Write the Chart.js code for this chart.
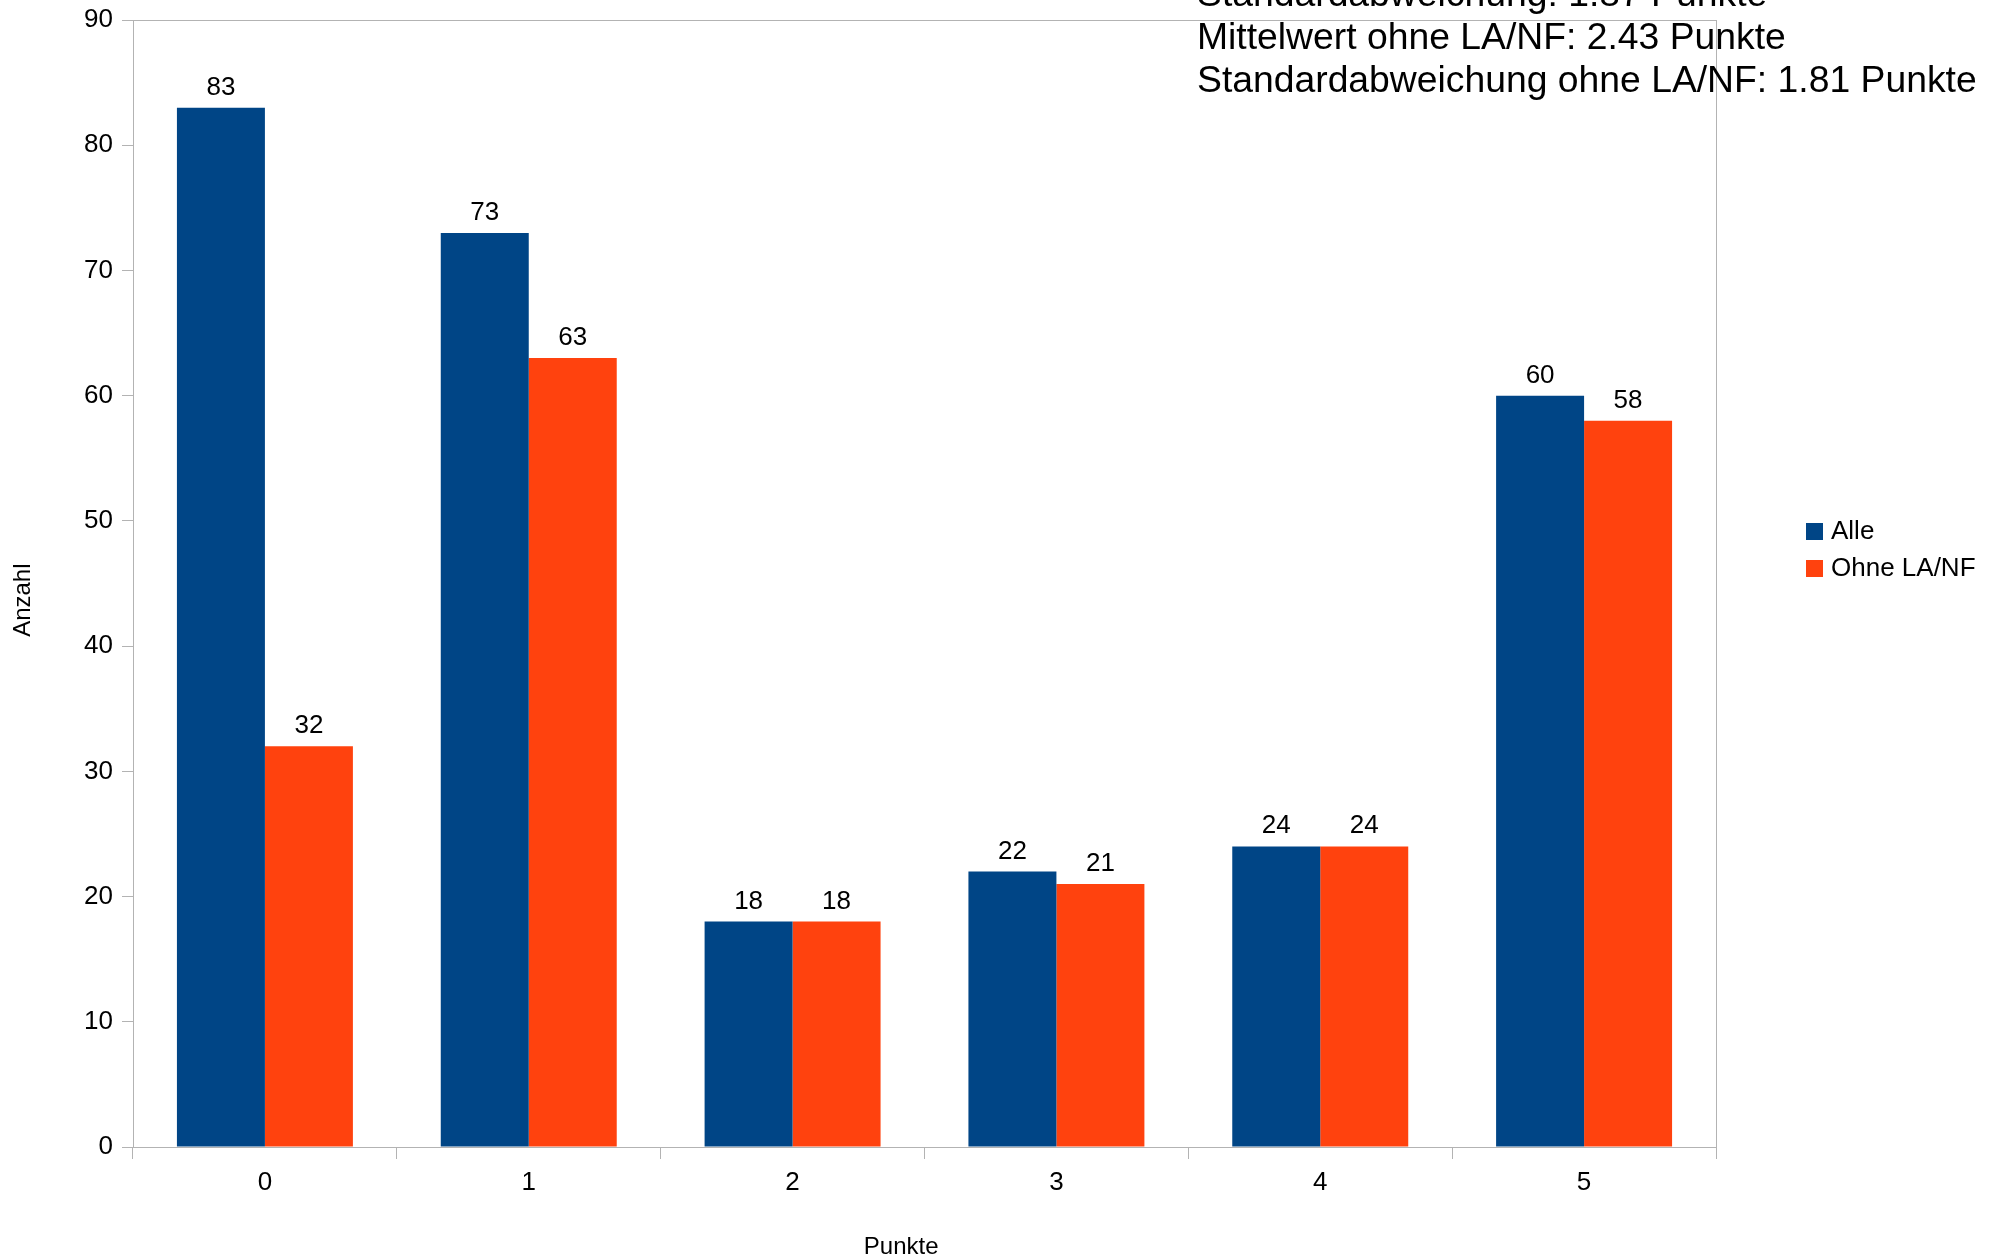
<!DOCTYPE html>
<html lang="de">
<head>
    <meta charset="UTF-8">
    <title>Punkte</title>
    <style>
        body {
            margin: 0;
            padding: 0;
            background-color: #ffffff;
        }
        #chartBox {
            width: 1994px;
            height: 1260px;
        }
    </style>
</head>
<body>

<div id="chartBox">
    <canvas id="pointsChart" width="1994" height="1260"></canvas>
</div>

<script src="https://cdn.jsdelivr.net/npm/chart.js@4/dist/chart.umd.min.js"></script>
<script>
    const categories = ['0', '1', '2', '3', '4', '5'];
    const alleValues = [83, 73, 18, 22, 24, 60];
    const ohneValues = [32, 63, 18, 21, 24, 58];
    const seriesNames = ['Alle', 'Ohne LA/NF'];
    const statLines = [
        'Standardabweichung: 1.87 Punkte',
        'Mittelwert ohne LA/NF: 2.43 Punkte',
        'Standardabweichung ohne LA/NF: 1.81 Punkte'
    ];

    const FONT = "'Liberation Sans', Arial, sans-serif";
    const BLUE = '#004586';
    const ORANGE = '#ff420e';
    const FRAME = '#b3b3b3';

    // frame around plot area, value labels, legend and the stats text
    const extras = {
        id: 'extras',
        afterDatasetsDraw(chart) {
            const {ctx, chartArea} = chart;
            ctx.save();
            ctx.strokeStyle = FRAME;
            ctx.lineWidth = 1;
            ctx.strokeRect(chartArea.left + 0.5, chartArea.top + 0.5,
                chartArea.right - chartArea.left, chartArea.bottom - chartArea.top);

            // value labels above bars
            ctx.fillStyle = '#000000';
            ctx.font = '26px ' + FONT;
            ctx.textAlign = 'center';
            ctx.textBaseline = 'alphabetic';
            chart.data.datasets.forEach((ds, i) => {
                chart.getDatasetMeta(i).data.forEach((bar, j) => {
                    ctx.fillText(String(ds.data[j]), bar.x, bar.y - 13);
                });
            });

            // legend
            ctx.font = '26px ' + FONT;
            ctx.textAlign = 'left';
            ctx.textBaseline = 'middle';
            chart.data.datasets.forEach((ds, i) => {
                const cy = 531 + i * 37;
                ctx.fillStyle = ds.backgroundColor;
                ctx.fillRect(1806, cy - 8, 17, 17);
                ctx.fillStyle = '#000000';
                ctx.fillText(ds.label, 1831, cy + 1);
            });

            // statistics text, top right
            ctx.font = '37.3px ' + FONT;
            ctx.textBaseline = 'alphabetic';
            statLines.forEach((line, i) => {
                ctx.fillText(line, 1197, 6 + i * 43);
            });
            ctx.restore();
        }
    };

    const ctx = document.getElementById('pointsChart').getContext('2d');
    const pointsChart = new Chart(ctx, {
        type: 'bar',
        data: {
            labels: categories,
            datasets: [{
                label: seriesNames[0],
                data: alleValues,
                backgroundColor: BLUE
            }, {
                label: seriesNames[1],
                data: ohneValues,
                backgroundColor: ORANGE
            }]
        },
        options: {
            responsive: false,
            animation: false,
            layout: {
                padding: {left: 0, top: 20, right: 278, bottom: 0}
            },
            categoryPercentage: 0.667,
            barPercentage: 1.0,
            plugins: {
                legend: {display: false},
                tooltip: {enabled: false}
            },
            scales: {
                x: {
                    grid: {
                        offset: true,
                        drawOnChartArea: false,
                        drawTicks: true,
                        tickLength: 12,
                        color: FRAME
                    },
                    border: {color: FRAME},
                    ticks: {
                        color: '#000000',
                        padding: 8,
                        font: {family: FONT, size: 26}
                    },
                    title: {
                        display: true,
                        // trailing spaces nudge the centred title a bit left, like the original
                        text: 'Punkte       ',
                        color: '#000000',
                        padding: {top: 0, bottom: 0},
                        font: {family: FONT, size: 24, lineHeight: 1.08}
                    },
                    afterFit(scale) {
                        scale.height = 113;
                        scale.paddingLeft = 0;
                        scale.paddingRight = 0;
                    }
                },
                y: {
                    min: 0,
                    max: 90,
                    ticks: {
                        stepSize: 10,
                        color: '#000000',
                        padding: 9,
                        font: {family: FONT, size: 26}
                    },
                    grid: {
                        drawOnChartArea: false,
                        drawTicks: true,
                        tickLength: 11,
                        color: FRAME
                    },
                    border: {color: FRAME},
                    title: {
                        display: true,
                        // same trick: push the rotated title a little lower
                        text: 'Anzahl     ',
                        color: '#000000',
                        padding: {top: 9, bottom: 0},
                        font: {family: FONT, size: 24, lineHeight: 1.2}
                    },
                    afterFit(scale) {
                        scale.width = 133;
                        scale.paddingTop = 0;
                        scale.paddingBottom = 0;
                    }
                }
            }
        },
        plugins: [extras]
    });
</script>

</body>
</html>
